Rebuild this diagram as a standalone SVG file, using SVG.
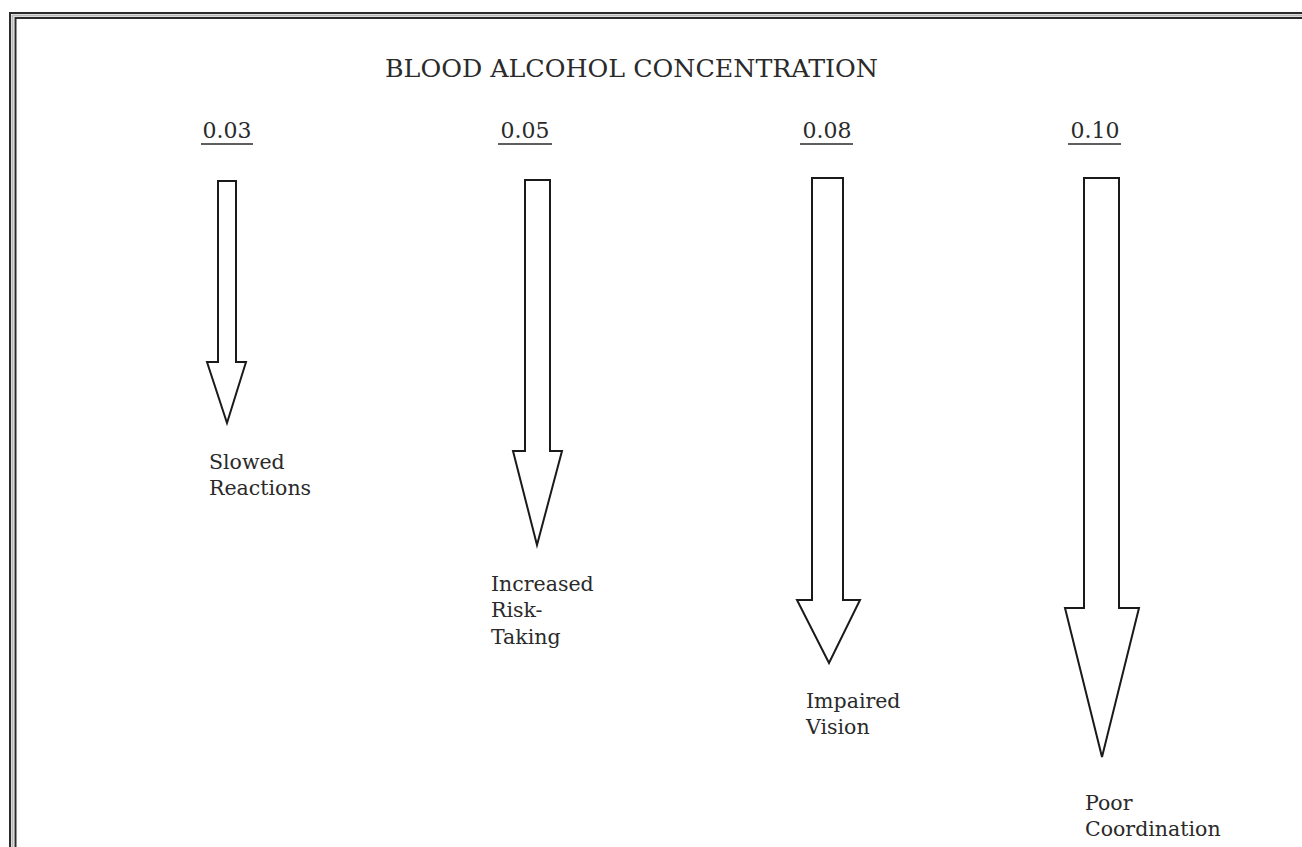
<svg xmlns="http://www.w3.org/2000/svg" width="1302" height="847" viewBox="0 0 1302 847">
  <style>
    .frame { fill: none; stroke: #2b2b2b; stroke-width: 2; }
    .frame-mid { fill: none; stroke: #b8b8b8; stroke-width: 2; }
    .arrow { fill: #ffffff; stroke: #1a1a1a; stroke-width: 2; stroke-linejoin: miter; }
    .title { font-family: "DejaVu Serif", "Liberation Serif", serif; font-size: 24px; fill: #2a2a2a; }
    .level { font-family: "DejaVu Serif", "Liberation Serif", serif; font-size: 22px; fill: #2a2a2a; }
    .effect { font-family: "DejaVu Serif", "Liberation Serif", serif; font-size: 20.5px; fill: #2a2a2a; }
    .rule { stroke: #2a2a2a; stroke-width: 1.5; }
  </style>
  <rect width="1302" height="847" fill="#ffffff"/>

  <!-- double page frame running off the right and bottom edges -->
  <g id="frame">
    <path class="frame" d="M10,847 V13 H1302"/>
    <path class="frame-mid" d="M12.5,847 V15.5 H1302"/>
    <path class="frame" d="M15.5,847 V18 H1302"/>
  </g>

  <text id="title" class="title" x="385" y="77" textLength="493" lengthAdjust="spacingAndGlyphs">BLOOD ALCOHOL CONCENTRATION</text>

  <g id="bac-003">
    <text class="level" x="227" y="138" text-anchor="middle">0.03</text>
    <line class="rule" x1="201" y1="144" x2="253" y2="144"/>
    <text class="effect" x="209" y="469">Slowed</text>
    <text class="effect" x="209" y="495">Reactions</text>
  </g>
  <g id="bac-005">
    <text class="level" x="525" y="138" text-anchor="middle">0.05</text>
    <line class="rule" x1="498" y1="144" x2="552" y2="144"/>
    <text class="effect" x="491" y="591">Increased</text>
    <text class="effect" x="491" y="617">Risk-</text>
    <text class="effect" x="491" y="644">Taking</text>
  </g>
  <g id="bac-008">
    <text class="level" x="827" y="138" text-anchor="middle">0.08</text>
    <line class="rule" x1="800" y1="144" x2="853" y2="144"/>
    <text class="effect" x="806" y="708">Impaired</text>
    <text class="effect" x="806" y="734">Vision</text>
  </g>
  <g id="bac-010">
    <text class="level" x="1095" y="138" text-anchor="middle">0.10</text>
    <line class="rule" x1="1068" y1="144" x2="1121" y2="144"/>
    <text class="effect" x="1085" y="810">Poor</text>
    <text class="effect" x="1085" y="836">Coordination</text>
  </g>

  <!-- block arrows, longer and wider with rising concentration -->
  <g id="connectors">
    <polygon class="arrow" points="218,181 236,181 236,362 246,362 227,423 207,362 218,362"/>
    <polygon class="arrow" points="525,180 550,180 550,451 562,451 537,545 513,451 525,451"/>
    <polygon class="arrow" points="812,178 843,178 843,600 860,600 829,663 797,600 812,600"/>
    <polygon class="arrow" points="1084,178 1119,178 1119,608 1139,608 1102,757 1065,608 1084,608"/>
  </g>
</svg>
